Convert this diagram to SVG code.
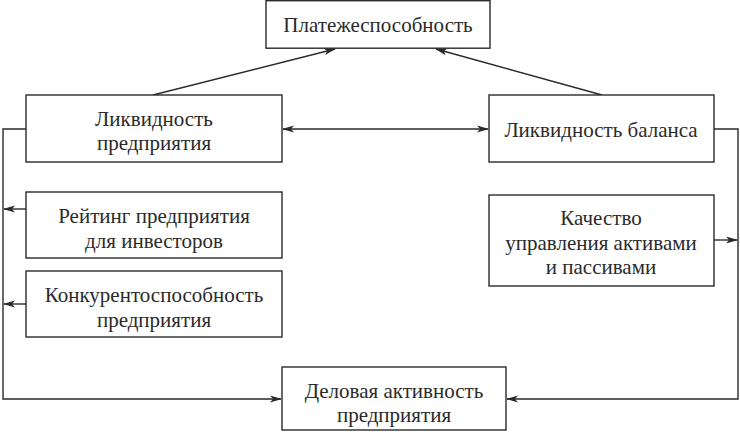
<svg xmlns="http://www.w3.org/2000/svg" width="740" height="434" viewBox="0 0 740 434">
<defs>
<style>
.box{fill:#fff;stroke:#2a2a2a;stroke-width:1.4}
.t{font-family:"Liberation Serif","Times New Roman",serif;font-size:21px;fill:#2a2a2a;text-anchor:middle}
.c{fill:none;stroke:#2a2a2a;stroke-width:1.4}
</style>
<marker id="ah" markerWidth="12" markerHeight="8" refX="11" refY="4" orient="auto-start-reverse" markerUnits="userSpaceOnUse">
<path d="M0,0.5 L12,4 L0,7.5 L3,4 z" fill="#2a2a2a"/>
</marker>
</defs>
<rect width="740" height="434" fill="#fff"/>
<g id="connectors">
<line class="c" x1="153" y1="95" x2="335" y2="49" marker-end="url(#ah)"/>
<line class="c" x1="602" y1="95" x2="436" y2="49" marker-end="url(#ah)"/>
<line class="c" x1="283" y1="129" x2="488" y2="129" marker-start="url(#ah)" marker-end="url(#ah)"/>
<polyline class="c" points="26,129 3,129 3,399 281,399" marker-end="url(#ah)"/>
<polyline class="c" points="714,129 738,129 738,399 507,399" marker-end="url(#ah)"/>
<line class="c" x1="26" y1="209" x2="4" y2="209" marker-end="url(#ah)"/>
<line class="c" x1="26" y1="304" x2="4" y2="304" marker-end="url(#ah)"/>
<line class="c" x1="714" y1="240" x2="737" y2="240" marker-end="url(#ah)"/>
</g>
<g id="n-platezh">
<rect class="box" x="266" y="0.7" width="224" height="47.5"/>
<text class="t" x="378" y="32">Платежеспособность</text>
</g>
<g id="n-likv-pred">
<rect class="box" x="26" y="95" width="256" height="67"/>
<text class="t" x="154" y="126">Ликвидность</text>
<text class="t" x="154" y="150">предприятия</text>
</g>
<g id="n-likv-bal">
<rect class="box" x="489" y="95" width="225" height="67"/>
<text class="t" x="601" y="137">Ликвидность баланса</text>
</g>
<g id="n-reiting">
<rect class="box" x="26" y="192" width="256" height="66"/>
<text class="t" x="154" y="223">Рейтинг предприятия</text>
<text class="t" x="154" y="248">для инвесторов</text>
</g>
<g id="n-konkur">
<rect class="box" x="26" y="271" width="256" height="66"/>
<text class="t" x="154" y="302">Конкурентоспособность</text>
<text class="t" x="154" y="327">предприятия</text>
</g>
<g id="n-kachestvo">
<rect class="box" x="489" y="195" width="225" height="91"/>
<text class="t" x="601" y="225">Качество</text>
<text class="t" x="601" y="250">управления активами</text>
<text class="t" x="601" y="274">и пассивами</text>
</g>
<g id="n-delovaya">
<rect class="box" x="282" y="367" width="224" height="63"/>
<text class="t" x="394" y="398">Деловая активность</text>
<text class="t" x="394" y="422">предприятия</text>
</g>
</svg>
